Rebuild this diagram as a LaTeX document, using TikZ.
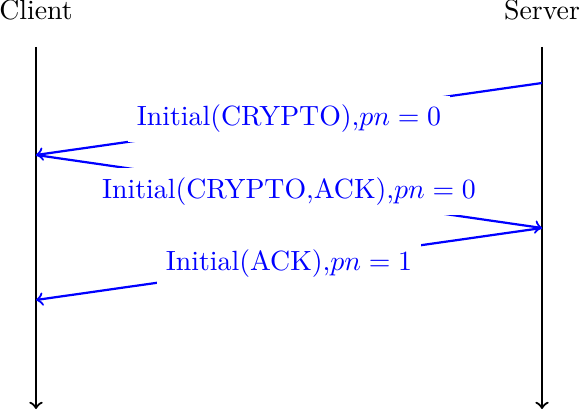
\documentclass[tikz,border=0pt]{standalone}
\usetikzlibrary{arrows}
\begin{document}
\begin{tikzpicture}[x=0.3597pt,y=-0.3597pt,
  lifeline/.style={thick,->},
  msg/.style={thick,blue,->},
  msglabel/.style={fill=white,text=blue,midway},
  actor/.style={anchor=base}]
\useasboundingbox (0,0) rectangle (580,410);
\node[actor] (client) at (36,20) {Client};
\node[actor] (server) at (542,20) {Server};
\coordinate (ctop) at (36,47);
\coordinate (cbot) at (36,409);
\coordinate (stop) at (542,47);
\coordinate (sbot) at (542,409);
\draw[lifeline] (ctop) -- (cbot);
\draw[lifeline] (stop) -- (sbot);
\coordinate (s1) at (542,83);
\coordinate (c1) at (36,155);
\coordinate (s2) at (542,228);
\coordinate (c2) at (36,300);
\draw[msg] (s1) -- node[msglabel] (l1) {Initial(CRYPTO),$pn=0$} (c1);
\draw[msg] (c1) -- node[msglabel] (l2) {Initial(CRYPTO,ACK),$pn=0$} (s2);
\draw[msg] (s2) -- node[msglabel] (l3) {Initial(ACK),$pn=1$} (c2);
\end{tikzpicture}
\end{document}
